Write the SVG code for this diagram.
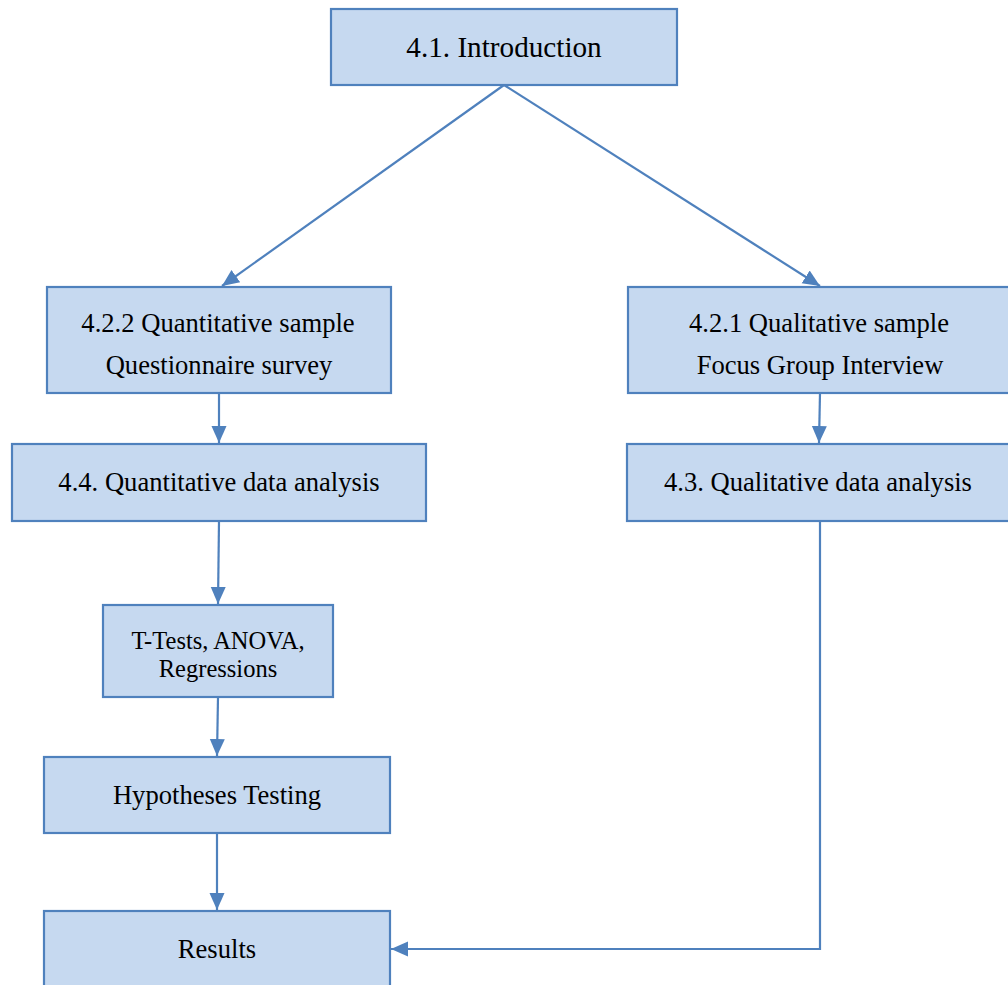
<svg xmlns="http://www.w3.org/2000/svg" width="1008" height="985" viewBox="0 0 1008 985">
  <style>
    .box { fill: #c6d9f0; stroke: #4f81bd; stroke-width: 2.2; }
    .lbl { font-family: "Liberation Serif", "Times New Roman", serif; font-size: 26.6px; fill: #000; text-anchor: middle; }
    .sm { font-size: 24.5px; }
    .big { font-size: 29.2px; }
    .conn { fill: none; stroke: #4f81bd; stroke-width: 2.2; }
  </style>
  <defs>
    <marker id="arrow" markerUnits="userSpaceOnUse" markerWidth="18" markerHeight="18" viewBox="0 0 18 18" refX="17" refY="9" orient="auto">
      <path d="M0,1.5 L17,9 L0,16.5 Z" fill="#4f81bd"/>
    </marker>
  </defs>
  <rect width="1008" height="985" fill="#fff"/>

  <g id="connectors">
    <line class="conn" x1="504" y1="85" x2="222" y2="286" marker-end="url(#arrow)"/>
    <line class="conn" x1="504" y1="85" x2="820" y2="286" marker-end="url(#arrow)"/>
    <line class="conn" x1="219" y1="393" x2="219" y2="443" marker-end="url(#arrow)"/>
    <line class="conn" x1="820" y1="393" x2="819" y2="443" marker-end="url(#arrow)"/>
    <line class="conn" x1="219" y1="521" x2="218" y2="604" marker-end="url(#arrow)"/>
    <line class="conn" x1="218" y1="697" x2="217" y2="756" marker-end="url(#arrow)"/>
    <line class="conn" x1="217" y1="833" x2="217" y2="910" marker-end="url(#arrow)"/>
    <polyline class="conn" points="820,521 820,949 391,949" marker-end="url(#arrow)"/>
  </g>

  <g id="intro">
    <rect class="box" x="331" y="9" width="346" height="76"/>
    <text class="lbl big" x="504" y="57">4.1. Introduction</text>
  </g>
  <g id="quant-sample">
    <rect class="box" x="47" y="287" width="344" height="106"/>
    <text class="lbl" x="218" y="332">4.2.2 Quantitative sample</text>
    <text class="lbl" x="219" y="374">Questionnaire survey</text>
  </g>
  <g id="qual-sample">
    <rect class="box" x="628" y="287" width="384" height="106"/>
    <text class="lbl" x="819" y="332">4.2.1 Qualitative sample</text>
    <text class="lbl" x="820" y="374">Focus Group Interview</text>
  </g>
  <g id="quant-analysis">
    <rect class="box" x="12" y="444" width="414" height="77"/>
    <text class="lbl" x="219" y="491">4.4. Quantitative data analysis</text>
  </g>
  <g id="qual-analysis">
    <rect class="box" x="627" y="444" width="385" height="77"/>
    <text class="lbl" x="818" y="491">4.3. Qualitative data analysis</text>
  </g>
  <g id="tests">
    <rect class="box" x="103" y="605" width="230" height="92"/>
    <text class="lbl sm" x="218" y="649">T-Tests, ANOVA,</text>
    <text class="lbl sm" x="218" y="677">Regressions</text>
  </g>
  <g id="hypotheses">
    <rect class="box" x="44" y="757" width="346" height="76"/>
    <text class="lbl" x="217" y="804">Hypotheses Testing</text>
  </g>
  <g id="results">
    <rect class="box" x="44" y="911" width="346" height="80"/>
    <text class="lbl" x="217" y="958">Results</text>
  </g>
</svg>
